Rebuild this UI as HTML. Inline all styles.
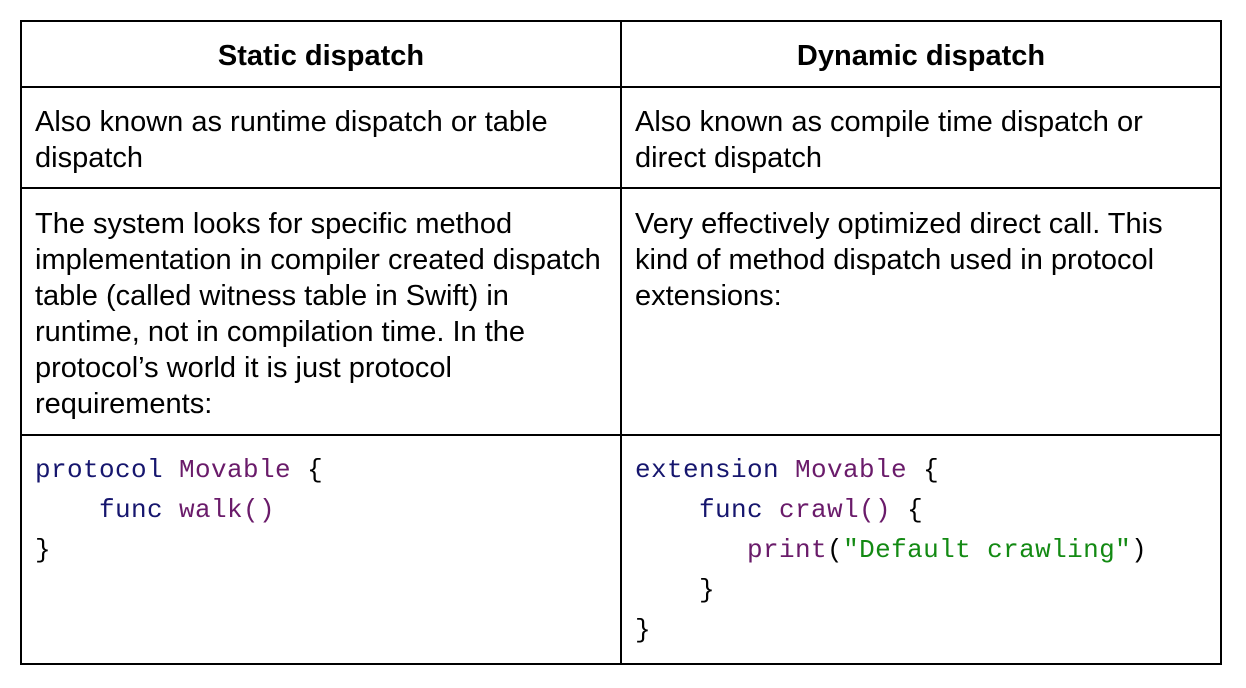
<!DOCTYPE html>
<html><head><meta charset="utf-8"><style>
body{margin:0;width:1246px;height:688px;background:#fff;position:relative;overflow:hidden;font-family:"Liberation Sans",Arial,sans-serif;color:#000}
.h{position:absolute;background:#000;height:2px}
.v{position:absolute;background:#000;width:2px}
.t{position:absolute;font-size:29px;line-height:36px;white-space:nowrap}
.hd{position:absolute;font-weight:bold;font-size:29px;text-align:center;width:600px;top:38px;line-height:36px}
.c{position:absolute;font-family:"Liberation Mono",monospace;font-size:26px;letter-spacing:0.4px;line-height:40px;white-space:pre}
.k{color:#16166e}.p{color:#6a1b6a}.g{color:#138a13}
</style></head><body>
<div class="h" style="left:20px;width:1202px;top:20px"></div>
<div class="h" style="left:20px;width:1202px;top:86px"></div>
<div class="h" style="left:20px;width:1202px;top:187px"></div>
<div class="h" style="left:20px;width:1202px;top:434px"></div>
<div class="h" style="left:20px;width:1202px;top:663px"></div>
<div class="v" style="left:20px;top:20px;height:645px"></div>
<div class="v" style="left:620px;top:20px;height:645px"></div>
<div class="v" style="left:1220px;top:20px;height:645px"></div>
<div class="hd" style="left:21px">Static dispatch</div>
<div class="hd" style="left:621px">Dynamic dispatch</div>
<div class="t" style="left:35px;top:104px">Also known as runtime dispatch or table<br>dispatch</div>
<div class="t" style="left:635px;top:104px">Also known as compile time dispatch or<br>direct dispatch</div>
<div class="t" style="left:35px;top:206px">The system looks for specific method<br>implementation in compiler created dispatch<br>table (called witness table in Swift) in<br>runtime, not in compilation time. In the<br>protocol’s world it is just protocol<br>requirements:</div>
<div class="t" style="left:635px;top:206px">Very effectively optimized direct call. This<br>kind of method dispatch used in protocol<br>extensions:</div>
<div class="c" style="left:35px;top:450px"><span class="k">protocol</span> <span class="p">Movable</span> {
    <span class="k">func</span> <span class="p">walk()</span>
}</div>
<div class="c" style="left:635px;top:450px"><span class="k">extension</span> <span class="p">Movable</span> {
    <span class="k">func</span> <span class="p">crawl()</span> {
       <span class="p">print</span>(<span class="g">"Default crawling"</span>)
    }
}</div>
</body></html>
